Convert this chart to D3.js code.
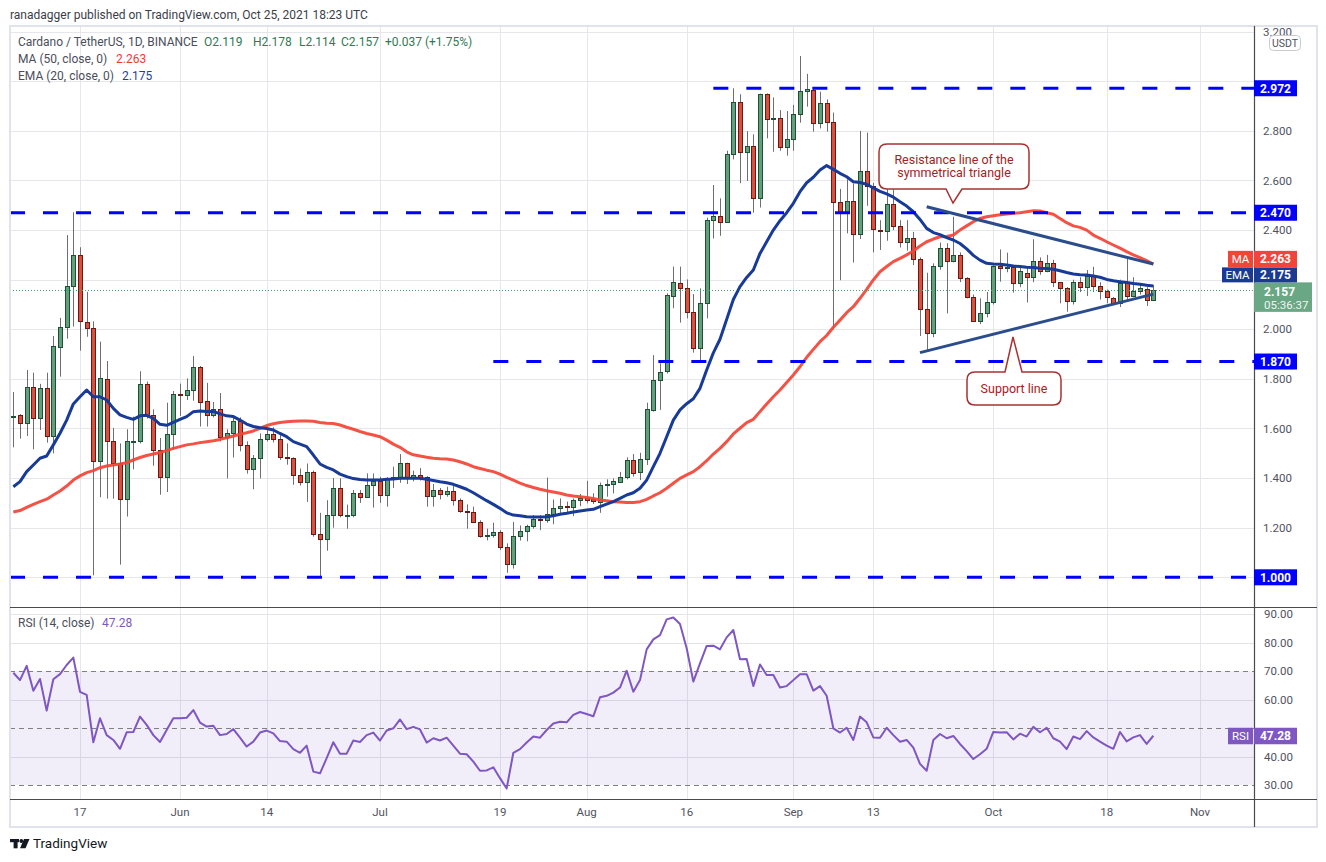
<!DOCTYPE html>
<html>
<head>
<meta charset="utf-8">
<script src="https://cdn.jsdelivr.net/npm/d3@7/dist/d3.min.js"></script>
<style>
html,body{margin:0;padding:0;background:#fff;}
svg{display:block;font-family:Roboto,"Liberation Sans",sans-serif;}
</style>
</head>
<body>
<svg id="chart" width="1326" height="862"></svg>
<script>
// ---------- DATA (ADA/USDT daily, 2021-05-07 .. 2021-10-25) ----------
const opens = [
 1.648,1.653,1.621,1.766,1.641,1.762,1.569,1.927,2.008,2.173,2.298,2.028,2.004,1.468,1.798,1.548,1.462,1.315,1.548,1.551,1.778,1.653,1.512,1.403,1.577,
 1.738,1.736,1.754,1.847,1.710,1.656,1.677,1.565,1.581,1.629,1.532,1.435,1.480,1.556,1.576,1.556,1.484,1.482,1.414,1.383,1.426,1.173,1.156,1.250,1.359,1.250,1.251,1.338,1.325,1.371,
 1.387,1.330,1.395,1.403,1.459,1.403,1.414,1.403,1.328,1.350,1.336,1.347,1.312,1.266,1.264,1.224,1.168,1.172,1.181,1.121,1.052,1.168,1.185,1.205,1.234,1.230,1.254,1.278,1.287,1.285,1.312,
 1.318,1.314,1.305,1.371,1.375,1.386,1.403,1.473,1.426,1.476,1.675,1.796,1.833,2.135,2.185,2.165,2.071,1.923,2.105,2.441,2.457,2.434,2.706,2.915,2.716,2.738,2.528,2.947,2.847,2.851,2.734,
 2.766,2.869,2.960,2.965,2.830,2.911,2.834,2.512,2.470,2.517,2.383,2.638,2.579,2.401,2.395,2.504,2.417,2.350,2.370,2.282,2.081,1.984,2.257,2.329,2.277,2.300,2.205,2.129,2.035,2.064,
 2.111,2.255,2.246,2.250,2.188,2.229,2.209,2.277,2.236,2.266,2.189,2.168,2.115,2.189,2.172,2.216,2.176,2.156,2.125,2.108,2.188,2.135,2.156,2.162,2.119
];
const highs = [
 1.747,1.658,1.836,1.825,1.780,1.825,1.973,2.046,2.380,2.472,2.331,2.151,2.032,1.950,1.872,1.602,1.540,1.597,1.648,1.831,1.789,1.677,1.562,1.704,1.751,
 1.781,1.802,1.892,1.852,1.784,1.707,1.743,1.597,1.645,1.645,1.548,1.493,1.580,1.594,1.605,1.580,1.540,1.484,1.439,1.459,1.430,1.260,1.311,1.400,1.399,1.293,1.352,1.352,1.419,1.419,
 1.405,1.403,1.446,1.497,1.462,1.430,1.441,1.408,1.376,1.360,1.365,1.379,1.318,1.294,1.285,1.230,1.196,1.220,1.190,1.137,1.223,1.209,1.212,1.251,1.251,1.402,1.314,1.318,1.305,1.318,1.336,
 1.389,1.339,1.382,1.395,1.399,1.425,1.484,1.497,1.502,1.704,1.896,1.863,2.145,2.253,2.253,2.201,2.142,2.165,2.450,2.582,2.528,2.720,2.972,2.948,2.799,2.786,2.950,2.951,2.935,2.884,2.880,
 2.905,3.102,3.030,2.970,2.958,2.927,2.874,2.566,2.605,2.588,2.800,2.793,2.590,2.440,2.575,2.565,2.440,2.440,2.393,2.290,2.228,2.266,2.350,2.347,2.454,2.310,2.210,2.140,2.125,2.151,
 2.266,2.322,2.309,2.260,2.250,2.250,2.363,2.290,2.300,2.280,2.190,2.170,2.200,2.210,2.239,2.252,2.190,2.160,2.130,2.200,2.290,2.210,2.180,2.170,2.178
];
const lows = [
 1.524,1.559,1.570,1.516,1.594,1.543,1.500,1.809,1.962,2.011,1.914,1.970,1.008,1.323,1.317,1.317,1.051,1.245,1.435,1.540,1.640,1.450,1.333,1.344,1.516,
 1.651,1.715,1.712,1.608,1.608,1.645,1.548,1.399,1.483,1.508,1.418,1.355,1.399,1.548,1.544,1.473,1.454,1.373,1.370,1.304,1.164,1.000,1.107,1.200,1.242,1.196,1.242,1.300,1.320,1.281,
 1.300,1.285,1.360,1.381,1.376,1.387,1.390,1.285,1.285,1.314,1.325,1.289,1.260,1.196,1.220,1.160,1.149,1.160,1.110,1.018,1.035,1.148,1.145,1.196,1.190,1.220,1.214,1.255,1.255,1.247,1.287,
 1.298,1.296,1.260,1.325,1.338,1.380,1.395,1.406,1.392,1.453,1.668,1.675,1.822,2.085,2.027,2.044,1.906,1.870,2.044,2.366,2.377,2.430,2.685,2.589,2.598,2.470,2.491,2.770,2.716,2.720,2.700,
 2.720,2.833,2.898,2.797,2.810,2.797,2.000,2.198,2.387,2.269,2.364,2.498,2.310,2.320,2.357,2.400,2.330,2.317,2.259,1.973,1.917,1.968,2.240,2.064,2.270,2.190,2.125,2.030,2.021,2.048,
 2.100,2.192,2.230,2.148,2.170,2.108,2.190,2.220,2.230,2.170,2.105,2.071,2.100,2.150,2.134,2.150,2.120,2.105,2.098,2.090,2.120,2.130,2.140,2.094,2.114
];
const closes = [
 1.652,1.621,1.766,1.641,1.762,1.569,1.933,2.008,2.173,2.298,2.032,2.004,1.468,1.802,1.548,1.462,1.315,1.548,1.551,1.778,1.653,1.512,1.403,1.577,1.738,
 1.736,1.754,1.847,1.706,1.653,1.677,1.565,1.581,1.629,1.532,1.435,1.480,1.556,1.576,1.556,1.484,1.482,1.414,1.383,1.426,1.173,1.156,1.250,1.359,1.250,1.251,1.338,1.325,1.371,1.387,
 1.330,1.395,1.403,1.459,1.403,1.414,1.403,1.328,1.350,1.336,1.347,1.312,1.266,1.264,1.224,1.168,1.172,1.183,1.121,1.052,1.168,1.185,1.205,1.234,1.230,1.255,1.278,1.287,1.285,1.312,1.318,
 1.312,1.306,1.371,1.376,1.389,1.406,1.473,1.422,1.476,1.677,1.796,1.829,2.138,2.189,2.165,2.071,1.923,2.105,2.441,2.457,2.434,2.706,2.915,2.716,2.738,2.528,2.947,2.847,2.851,2.734,2.766,
 2.867,2.960,2.968,2.830,2.911,2.834,2.512,2.470,2.517,2.383,2.638,2.579,2.403,2.395,2.504,2.417,2.350,2.370,2.282,2.081,1.984,2.257,2.329,2.277,2.300,2.205,2.129,2.035,2.064,2.111,
 2.255,2.246,2.250,2.188,2.235,2.209,2.277,2.236,2.266,2.189,2.168,2.115,2.189,2.172,2.216,2.176,2.156,2.129,2.108,2.188,2.134,2.156,2.165,2.120,2.157
];
const ma50 = [
 1.263,1.269,1.282,1.294,1.305,1.315,1.332,1.348,1.368,1.392,1.409,1.422,1.430,1.442,1.449,1.453,1.457,1.462,1.473,1.483,1.491,1.497,1.503,1.511,1.520,
 1.527,1.534,1.538,1.543,1.547,1.551,1.556,1.563,1.570,1.577,1.583,1.590,1.601,1.612,1.619,1.624,1.627,1.629,1.630,1.630,1.629,1.624,1.621,1.620,1.614,1.605,1.597,1.588,1.580,1.574,
 1.567,1.553,1.537,1.524,1.506,1.494,1.489,1.484,1.480,1.478,1.477,1.473,1.466,1.457,1.446,1.439,1.432,1.426,1.416,1.403,1.392,1.380,1.370,1.362,1.355,1.349,1.344,1.339,1.332,1.328,1.325,
 1.322,1.318,1.312,1.309,1.305,1.304,1.302,1.302,1.305,1.314,1.328,1.341,1.359,1.379,1.399,1.413,1.426,1.446,1.470,1.497,1.520,1.547,1.578,1.601,1.624,1.637,1.668,1.699,1.728,1.755,1.785,
 1.816,1.849,1.887,1.919,1.950,1.975,2.008,2.037,2.067,2.091,2.125,2.161,2.199,2.232,2.253,2.273,2.286,2.300,2.316,2.336,2.353,2.364,2.373,2.374,2.380,2.400,2.417,2.434,2.447,2.454,
 2.458,2.462,2.465,2.468,2.470,2.474,2.478,2.477,2.470,2.464,2.447,2.430,2.417,2.411,2.400,2.380,2.367,2.353,2.340,2.327,2.313,2.300,2.289,2.277,2.263
];
const ema20 = [
 1.365,1.386,1.426,1.453,1.480,1.489,1.534,1.581,1.634,1.699,1.728,1.755,1.728,1.728,1.715,1.681,1.655,1.645,1.637,1.651,1.653,1.641,1.617,1.613,1.625,
 1.637,1.648,1.668,1.671,1.669,1.669,1.659,1.651,1.648,1.634,1.618,1.608,1.603,1.600,1.594,1.580,1.567,1.547,1.537,1.527,1.493,1.457,1.443,1.433,1.416,1.406,1.398,1.394,1.392,1.392,
 1.392,1.395,1.396,1.399,1.399,1.399,1.399,1.395,1.390,1.385,1.381,1.375,1.365,1.355,1.341,1.325,1.309,1.294,1.278,1.260,1.251,1.248,1.244,1.243,1.243,1.244,1.248,1.254,1.258,1.263,1.267,
 1.271,1.274,1.285,1.295,1.305,1.318,1.332,1.341,1.359,1.392,1.446,1.500,1.567,1.634,1.675,1.700,1.720,1.762,1.836,1.905,1.960,2.040,2.120,2.172,2.209,2.239,2.306,2.353,2.400,2.438,2.470,
 2.508,2.555,2.591,2.613,2.642,2.660,2.645,2.629,2.615,2.595,2.592,2.585,2.570,2.556,2.546,2.533,2.514,2.497,2.474,2.443,2.407,2.390,2.382,2.370,2.360,2.346,2.324,2.298,2.279,2.266,
 2.263,2.262,2.259,2.255,2.253,2.250,2.249,2.246,2.245,2.242,2.236,2.229,2.223,2.220,2.219,2.215,2.210,2.201,2.196,2.192,2.189,2.185,2.182,2.178,2.175
];
const rsi14 = [
 69.4,66.8,71.8,63.1,67.2,56.1,67.1,68.9,72.1,74.7,62.7,61.6,45.0,53.4,47.5,45.8,42.7,48.5,48.6,54.0,51.1,47.5,45.1,49.3,53.4,
 53.4,53.6,56.3,51.9,50.5,50.8,47.5,47.9,49.6,46.6,43.5,45.2,48.4,49.1,48.1,45.4,45.2,42.6,41.3,43.8,34.7,34.1,39.4,45.0,41.0,41.0,45.6,45.1,47.5,48.4,
 45.6,49.1,49.9,53.0,49.6,50.4,49.5,44.9,46.4,45.6,46.6,43.8,41.0,40.8,38.2,35.0,35.1,36.2,32.4,28.8,41.3,42.6,44.9,47.0,46.6,49.3,51.6,52.2,52.0,54.6,55.6,
 54.9,54.1,60.8,61.3,62.4,64.2,70.1,62.7,66.8,77.6,81.1,82.6,88.1,88.8,86.5,78.0,66.3,72.7,78.8,78.9,77.6,81.8,84.4,74.1,74.2,64.7,72.3,68.6,68.6,64.2,64.7,
 66.8,68.9,68.9,63.1,64.7,61.3,49.9,48.4,50.1,45.8,54.0,52.0,46.7,46.6,50.1,47.5,45.2,45.8,43.1,37.4,35.0,45.8,47.9,46.4,47.2,44.4,41.9,39.1,40.8,42.7,
 48.6,48.4,48.5,46.0,48.0,47.0,50.4,48.5,50.1,46.4,45.2,42.6,47.0,46.1,48.9,46.7,45.2,43.8,42.7,48.6,45.3,46.7,47.5,44.4,47.28
];
const tickDates  = ["2021-05-17","2021-06-01","2021-06-14","2021-07-01","2021-07-19","2021-08-01","2021-08-16","2021-09-01","2021-09-13","2021-10-01","2021-10-18","2021-11-01"];
const tickLabels = ["17","Jun","14","Jul","19","Aug","16","Sep","13","Oct","18","Nov"];
const priceTicks = [1.0,1.2,1.4,1.6,1.8,2.0,2.2,2.4,2.6,2.8,3.0,3.2];
const rsiTicks   = [30,40,50,60,70,80,90];
const rsiDashed  = [30,50,70];
const levelPrices = [2.972, 2.470, 1.870, 1.000];
const levelStarts = ["2021-08-20", null, "2021-07-18", null];
const resistancePts = [["2021-09-21",2.494],["2021-10-25",2.263]];
const supportPts    = [["2021-09-20",1.906],["2021-10-25",2.142]];
const lastPrice = 2.157, lastMA = 2.263, lastEMA = 2.175, lastRSI = 47.28;

// ---------- SETUP ----------
const parse = d3.utcParse("%Y-%m-%d");
const dates = d3.utcDay.range(new Date(Date.UTC(2021,4,7)), new Date(Date.UTC(2021,9,26)));
const candles = dates.map((d,i)=>({date:d,o:opens[i],h:highs[i],l:lows[i],c:closes[i],ma:ma50[i],ema:ema20[i],rsi:rsi14[i]}));

const svg = d3.select("#chart");
const L = 10, R = 1254, FR = 1317, T = 26, MB = 607, RB = 799, FB = 827;
const x  = d3.scaleUtc().domain([parse("2021-05-17"), parse("2021-11-01")]).range([80, 1200]);
const y  = d3.scaleLinear().domain([1, 3]).range([577.3, 81.3]);
const yr = d3.scaleLinear().domain([30, 90]).range([785, 614]);

const GREEN = "#62a07c", GREEN_B = "#1f4f35", RED = "#d9503f", RED_B = "#6a1a12", WICK = "#6f6f72";
const AXIS_TXT = "#50535e";

const defs = svg.append("defs");
defs.append("clipPath").attr("id","mainClip").append("rect").attr("x",L+1).attr("y",T+1).attr("width",R-L-1).attr("height",MB-T-1);
defs.append("clipPath").attr("id","rsiClip").append("rect").attr("x",L+1).attr("y",MB+1).attr("width",R-L-1).attr("height",RB-MB-1);
defs.append("clipPath").attr("id","axisClip").append("rect").attr("x",R).attr("y",T+1).attr("width",FR-R).attr("height",FB-T-1);

svg.append("rect").attr("width",1326).attr("height",862).attr("fill","#fff");

// header
svg.append("text").attr("x",10).attr("y",19).attr("font-size",12).attr("fill","#3b3e48")
  .text("ranadagger published on TradingView.com, Oct 25, 2021 18:23 UTC");

// ---------- GRID ----------
const grid = svg.append("g");
grid.selectAll("line.vg").data(tickDates).join("line")
  .attr("x1",d=>Math.round(x(parse(d)))+0.5).attr("x2",d=>Math.round(x(parse(d)))+0.5)
  .attr("y1",T).attr("y2",RB).attr("stroke","#e6e7ea").attr("stroke-width",1);
grid.append("g").attr("clip-path","url(#mainClip)").selectAll("line").data(priceTicks).join("line")
  .attr("x1",L).attr("x2",R).attr("y1",d=>Math.round(y(d))+0.5).attr("y2",d=>Math.round(y(d))+0.5)
  .attr("stroke","#e6e7ea");
// RSI band & grid
svg.append("rect").attr("x",L).attr("width",R-L).attr("y",yr(70)).attr("height",yr(30)-yr(70))
  .attr("fill","rgba(126,87,194,0.10)");
grid.selectAll("line.rg").data(rsiTicks.filter(v=>!rsiDashed.includes(v))).join("line")
  .attr("x1",L).attr("x2",R).attr("y1",d=>Math.round(yr(d))+0.5).attr("y2",d=>Math.round(yr(d))+0.5)
  .attr("stroke","#e3e3e8");
svg.append("g").selectAll("line").data(rsiDashed).join("line")
  .attr("x1",L).attr("x2",R).attr("y1",d=>Math.round(yr(d))+0.5).attr("y2",d=>Math.round(yr(d))+0.5)
  .attr("stroke","#808080").attr("stroke-dasharray","5,4");

// ---------- CANDLES ----------
const main = svg.append("g").attr("clip-path","url(#mainClip)");
main.selectAll("line.wick").data(candles).join("line")
  .attr("x1",d=>Math.round(x(d.date))+0.5).attr("x2",d=>Math.round(x(d.date))+0.5)
  .attr("y1",d=>y(d.h)).attr("y2",d=>y(d.l)).attr("stroke",WICK).attr("stroke-width",1);
main.selectAll("rect.body").data(candles).join("rect")
  .attr("x",d=>Math.round(x(d.date))-2+0.5)
  .attr("width",4)
  .attr("y",d=>Math.round(y(Math.max(d.o,d.c)))+0.5)
  .attr("height",d=>Math.max(1, Math.round(y(Math.min(d.o,d.c))) - Math.round(y(Math.max(d.o,d.c)))))
  .attr("fill",d=>d.c>=d.o?GREEN:RED)
  .attr("stroke",d=>d.c>=d.o?GREEN_B:RED_B).attr("stroke-width",1);

// MA & EMA
main.append("path").datum(candles).attr("fill","none").attr("stroke","#f44336").attr("stroke-width",3)
  .attr("stroke-opacity",0.92).attr("stroke-linejoin","round")
  .attr("d",d3.line().x(d=>x(d.date)).y(d=>y(d.ma)));
main.append("path").datum(candles).attr("fill","none").attr("stroke","#183a98").attr("stroke-width",3)
  .attr("stroke-linejoin","round")
  .attr("d",d3.line().x(d=>x(d.date)).y(d=>y(d.ema)));

// last price dotted line
main.append("line").attr("x1",L).attr("x2",R).attr("y1",Math.round(y(lastPrice))+0.5).attr("y2",Math.round(y(lastPrice))+0.5)
  .attr("stroke","#4f9a72").attr("stroke-dasharray","1,2");

// horizontal levels
main.selectAll("line.level").data(levelPrices).join("line")
  .attr("x1",(d,i)=>levelStarts[i]?x(parse(levelStarts[i])):L).attr("x2",R)
  .attr("y1",d=>y(d)).attr("y2",d=>y(d))
  .attr("stroke","#0000ff").attr("stroke-width",3).attr("stroke-dasharray","15,18");

// triangle lines
[resistancePts, supportPts].forEach(pts=>{
  main.append("path").attr("fill","none").attr("stroke","#2b4d8c").attr("stroke-width",3)
    .attr("d",d3.line().x(p=>x(parse(p[0]))).y(p=>y(p[1]))(pts));
});

// callouts
function callout(x0,y0,x1,y1,r,ptr,top){
  const p = d3.path();
  p.moveTo(x0+r,y0);
  if(top){ p.lineTo(ptr[0],y0); p.lineTo(ptr[1],ptr[2]); p.lineTo(ptr[3],y0); }
  p.lineTo(x1-r,y0); p.quadraticCurveTo(x1,y0,x1,y0+r);
  p.lineTo(x1,y1-r); p.quadraticCurveTo(x1,y1,x1-r,y1);
  if(!top){ p.lineTo(ptr[3],y1); p.lineTo(ptr[1],ptr[2]); p.lineTo(ptr[0],y1); }
  p.lineTo(x0+r,y1); p.quadraticCurveTo(x0,y1,x0,y1-r);
  p.lineTo(x0,y0+r); p.quadraticCurveTo(x0,y0,x0+r,y0); p.closePath();
  return p.toString();
}
const ann = svg.append("g");
ann.append("path").attr("d",callout(879,144,1029,189,8,[946,953,203,962],false))
  .attr("fill","#fff").attr("stroke","#a83232").attr("stroke-width",1.5);
ann.append("text").attr("x",954).attr("y",164).attr("text-anchor","middle").attr("font-size",12.5).attr("fill","#a52222").text("Resistance line of the");
ann.append("text").attr("x",954).attr("y",177).attr("text-anchor","middle").attr("font-size",12.5).attr("fill","#a52222").text("symmetrical triangle");
ann.append("path").attr("d",callout(967,372,1061,405,8,[1005,1013,337,1022],true))
  .attr("fill","#fff").attr("stroke","#a83232").attr("stroke-width",1.5);
ann.append("text").attr("x",1014).attr("y",393).attr("text-anchor","middle").attr("font-size",12.5).attr("fill","#a52222").text("Support line");

// ---------- RSI ----------
svg.append("g").attr("clip-path","url(#rsiClip)").append("path").datum(candles)
  .attr("fill","none").attr("stroke","#7e57c2").attr("stroke-width",2).attr("stroke-linejoin","round")
  .attr("d",d3.line().x(d=>x(d.date)).y(d=>yr(d.rsi)));

// ---------- FRAME & SEPARATORS ----------
svg.append("rect").attr("x",L).attr("y",T).attr("width",FR-L).attr("height",FB-T)
  .attr("fill","none").attr("stroke","#e0e3eb").attr("stroke-width",2);
svg.append("line").attr("x1",L).attr("x2",FR).attr("y1",MB+0.5).attr("y2",MB+0.5).attr("stroke","#4a4a4f").attr("stroke-width",1.2);
svg.append("line").attr("x1",L).attr("x2",FR).attr("y1",RB+0.5).attr("y2",RB+0.5).attr("stroke","#4a4a4f").attr("stroke-width",1.2);
svg.append("line").attr("x1",R+0.5).attr("x2",R+0.5).attr("y1",T).attr("y2",FB).attr("stroke","#4a4a4f").attr("stroke-width",1.2);

// ---------- BOX POSITIONS (price-scale labels) ----------
const pTop = y(lastPrice) - 8;
const emaBot = Math.min(y(lastEMA)+7.5, pTop), emaTop = emaBot-15;
const maBot = Math.min(y(lastMA)+8, emaTop), maTop = maBot-16.5;
const boxSpans = levelPrices.map(v=>[y(v)-8, y(v)+8]).concat([[pTop,pTop+29.5],[emaTop,emaBot],[maTop,maBot]]);
const rsiBox = [yr(lastRSI)-8, yr(lastRSI)+8.5];
const freeOf = (spans, yy) => !spans.some(s => yy+5 > s[0] && yy-5 < s[1]);

// ---------- AXES ----------
const ax = svg.append("g").attr("clip-path","url(#axisClip)").attr("font-size",11.5).attr("fill",AXIS_TXT);
ax.selectAll("text.p").data(priceTicks.filter(v=>freeOf(boxSpans,y(v)))).join("text")
  .attr("x",1263).attr("y",d=>y(d)).attr("dy","0.35em").text(d3.format(".3f"));
ax.selectAll("text.r").data(rsiTicks.filter(v=>freeOf([rsiBox],yr(v)))).join("text")
  .attr("x",1264).attr("y",d=>yr(d)).attr("dy","0.35em").text(d3.format(".2f"));
// USDT badge
svg.append("rect").attr("x",1269.5).attr("y",35.5).attr("width",31).attr("height",15).attr("rx",4)
  .attr("fill","#fff").attr("stroke","#c8cad0");
svg.append("text").attr("x",1285).attr("y",43).attr("dy","0.35em").attr("text-anchor","middle").attr("font-size",10.5).attr("fill",AXIS_TXT).text("USDT");

// time labels
svg.append("g").selectAll("text").data(tickDates).join("text")
  .attr("x",d=>x(parse(d))).attr("y",812).attr("dy","0.35em").attr("text-anchor","middle")
  .attr("font-size",11.5).attr("fill",AXIS_TXT).text((d,i)=>tickLabels[i]);

// level boxes
const lb = svg.append("g");
levelPrices.forEach(v=>{
  lb.append("rect").attr("x",R).attr("y",y(v)-8).attr("width",43).attr("height",16).attr("fill","#0000ff");
  lb.append("text").attr("x",R+21.5).attr("y",y(v)).attr("dy","0.36em").attr("text-anchor","middle")
    .attr("font-size",12).attr("font-weight","bold").attr("fill","#fff").text(d3.format(".3f")(v));
});
// last price box
lb.append("rect").attr("x",R).attr("y",pTop).attr("width",58).attr("height",29.5).attr("fill","#6aa785");
lb.append("text").attr("x",1264).attr("y",pTop+9).attr("dy","0.36em").attr("font-size",12).attr("font-weight","bold").attr("fill","#fff").text(d3.format(".3f")(lastPrice));
lb.append("text").attr("x",1264).attr("y",pTop+22).attr("dy","0.36em").attr("font-size",11.5).attr("fill","#eef6f0").text("05:36:37");
// EMA box (pushed above price box)
lb.append("rect").attr("x",1222).attr("y",emaTop).attr("width",31).attr("height",15).attr("fill","#1a3a94");
lb.append("rect").attr("x",R).attr("y",emaTop).attr("width",43).attr("height",15).attr("fill","#1a3a94");
lb.append("text").attr("x",1237.5).attr("y",emaTop+7.5).attr("dy","0.36em").attr("text-anchor","middle").attr("font-size",11.5).attr("fill","#fff").text("EMA");
lb.append("text").attr("x",R+21.5).attr("y",emaTop+7.5).attr("dy","0.36em").attr("text-anchor","middle").attr("font-size",12).attr("font-weight","bold").attr("fill","#fff").text(d3.format(".3f")(lastEMA));
// MA box
lb.append("rect").attr("x",1228).attr("y",maTop).attr("width",25).attr("height",16.5).attr("fill","#f2453a");
lb.append("rect").attr("x",R).attr("y",maTop).attr("width",43).attr("height",16.5).attr("fill","#f2453a");
lb.append("text").attr("x",1240.5).attr("y",maTop+8.25).attr("dy","0.36em").attr("text-anchor","middle").attr("font-size",11.5).attr("fill","#fff").text("MA");
lb.append("text").attr("x",R+21.5).attr("y",maTop+8.25).attr("dy","0.36em").attr("text-anchor","middle").attr("font-size",12).attr("font-weight","bold").attr("fill","#fff").text(d3.format(".3f")(lastMA));
// RSI box
const ry = yr(lastRSI);
lb.append("rect").attr("x",1228).attr("y",ry-8).attr("width",25).attr("height",16.5).attr("fill","#7e57c2");
lb.append("rect").attr("x",R).attr("y",ry-8).attr("width",43).attr("height",16.5).attr("fill","#7e57c2");
lb.append("text").attr("x",1240.5).attr("y",ry+0.25).attr("dy","0.36em").attr("text-anchor","middle").attr("font-size",11.5).attr("fill","#fff").text("RSI");
lb.append("text").attr("x",R+21.5).attr("y",ry+0.25).attr("dy","0.36em").attr("text-anchor","middle").attr("font-size",12).attr("font-weight","bold").attr("fill","#fff").text(d3.format(".2f")(lastRSI));

// ---------- LEGENDS ----------
const lg = svg.append("g").attr("font-size",12);
lg.append("text").attr("x",18).attr("y",46).attr("fill","#4a4e5a").text("Cardano / TetherUS, 1D, BINANCE");
const ohlc = [["O",opens],["H",highs],["L",lows],["C",closes]];
const ohlcX = [204,253,299,341];
const last = candles.length-1;
ohlc.forEach((o,i)=>lg.append("text").attr("x",ohlcX[i]).attr("y",46).attr("fill","#2f7a55").text(o[0]+d3.format(".3f")(o[1][last])));
const chg = closes[last]-closes[last-1];
lg.append("text").attr("x",385).attr("y",46).attr("fill","#2f7a55")
  .text((chg>=0?"+":"")+d3.format(".3f")(chg)+" ("+(chg>=0?"+":"")+d3.format(".2f")(chg/closes[last-1]*100)+"%)");
lg.append("text").attr("x",18).attr("y",63).attr("fill","#4a4e5a").text("MA (50, close, 0)");
lg.append("text").attr("x",116).attr("y",63).attr("fill","#f23b2f").text(d3.format(".3f")(lastMA));
lg.append("text").attr("x",18).attr("y",80).attr("fill","#4a4e5a").text("EMA (20, close, 0)");
lg.append("text").attr("x",122).attr("y",80).attr("fill","#1f3fa0").text(d3.format(".3f")(lastEMA));
lg.append("text").attr("x",18).attr("y",627).attr("fill","#4a4e5a").text("RSI (14, close)");
lg.append("text").attr("x",102).attr("y",627).attr("fill","#7e57c2").text(d3.format(".2f")(lastRSI));

// ---------- FOOTER LOGO ----------
const logo = svg.append("g").attr("fill","#131722");
logo.append("rect").attr("x",10).attr("y",839).attr("width",9).attr("height",3.2);
logo.append("rect").attr("x",13.6).attr("y",839).attr("width",4).attr("height",9.3);
logo.append("circle").attr("cx",21.3).attr("cy",841).attr("r",1.9);
logo.append("path").attr("d","M24,839 L29.5,839 L25.5,848.3 L20,848.3 Z");
svg.append("text").attr("x",33).attr("y",848).attr("font-size",13.5).attr("fill","#131722").text("TradingView");
</script>
</body>
</html>
